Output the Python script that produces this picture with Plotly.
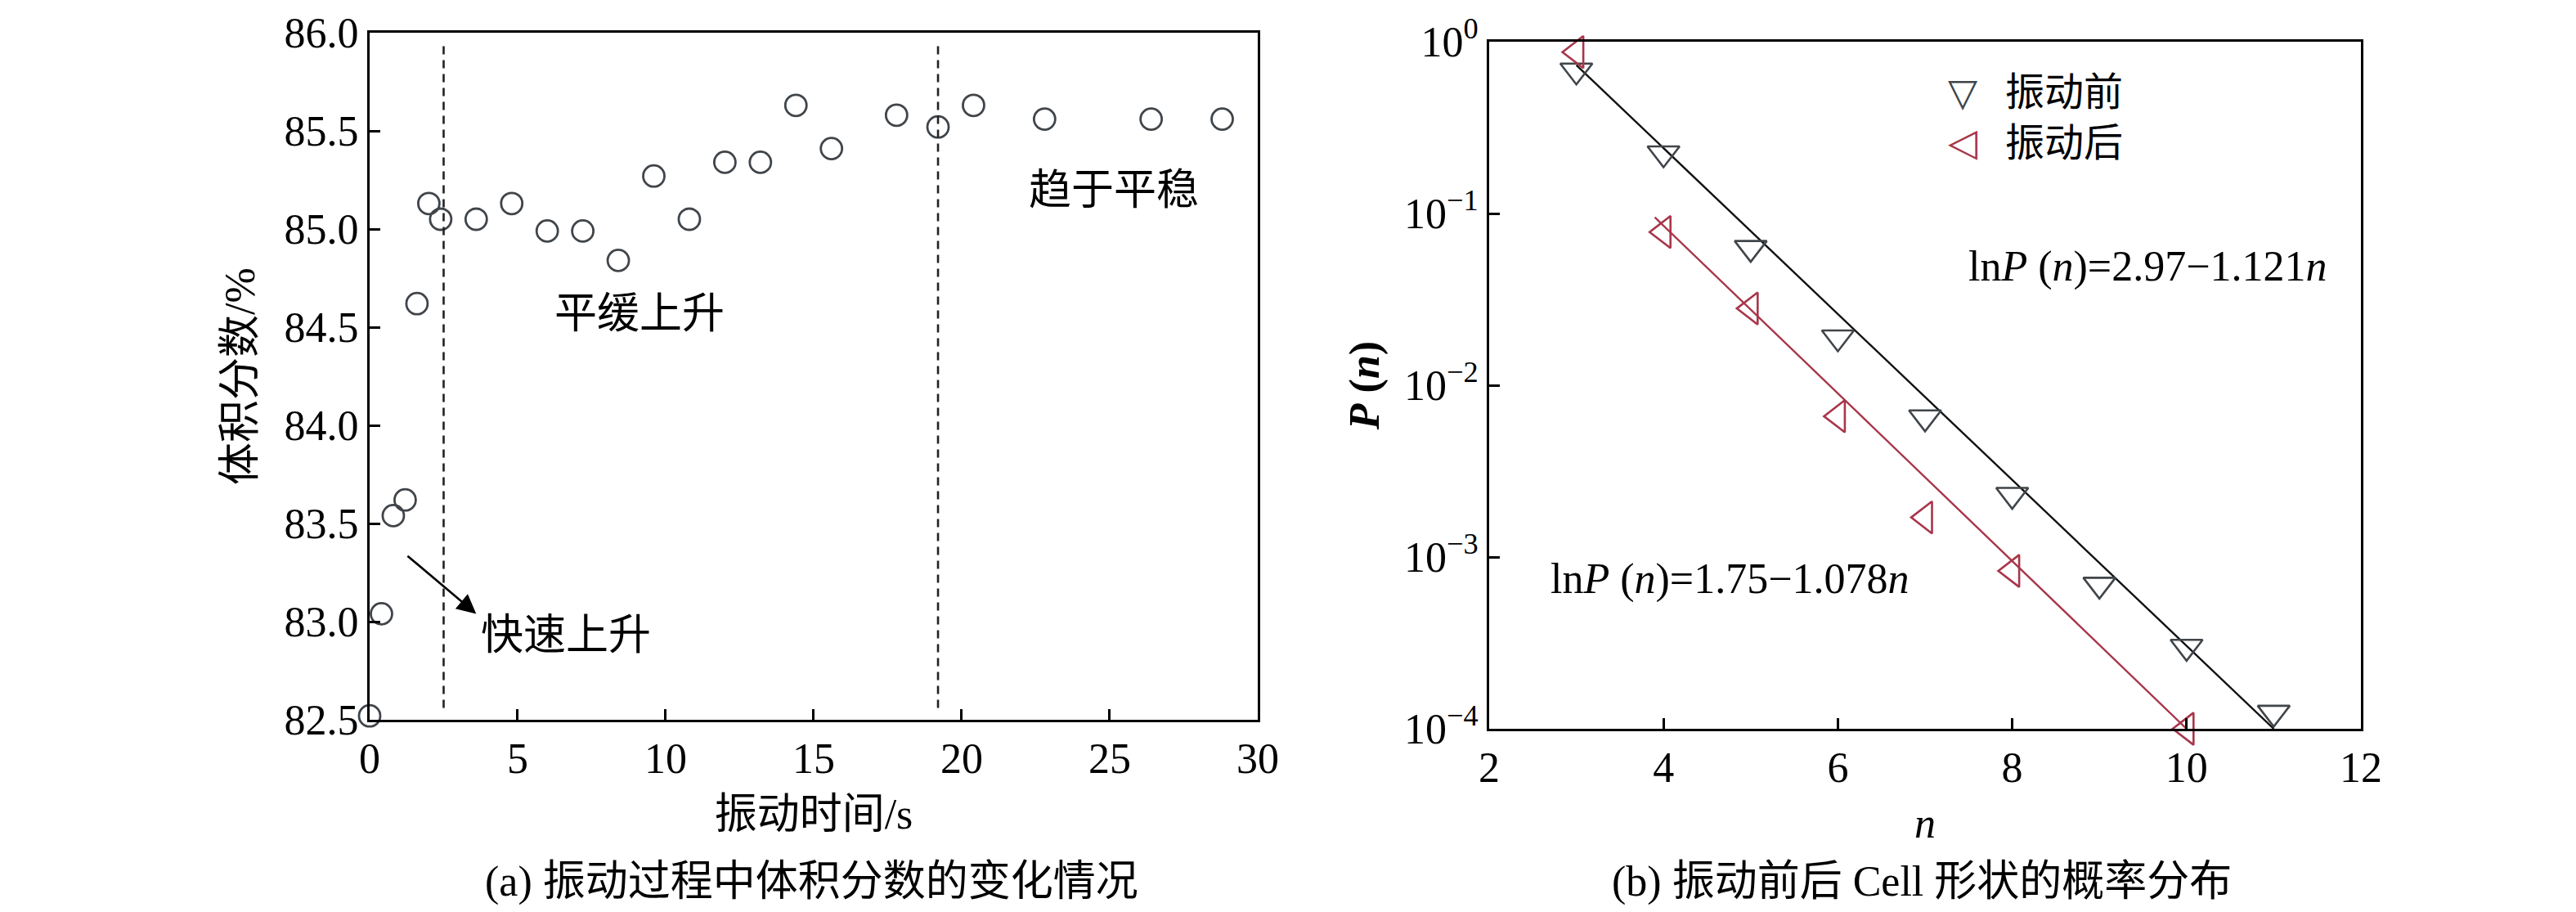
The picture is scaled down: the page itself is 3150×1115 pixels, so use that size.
import plotly.graph_objects as go

# (a) volume fraction vs vibration time
time_s = [0, 0.4, 0.8, 1.2, 1.6, 2.0, 2.4, 3.6, 4.8, 6.0, 7.2, 8.4, 9.6, 10.8,
          12.0, 13.2, 14.4, 15.6, 17.8, 19.2, 20.4, 22.8, 26.4, 28.8]
vol_frac = [82.52, 83.04, 83.54, 83.62, 84.62, 85.13, 85.05, 85.05, 85.13, 84.99,
            84.99, 84.84, 85.27, 85.05, 85.34, 85.34, 85.63, 85.41, 85.58, 85.52,
            85.63, 85.56, 85.56, 85.56]
stage_bounds = [2.5, 19.2]

# (b) probability of cell shape before / after vibration
n_before = [3, 4, 5, 6, 7, 8, 9, 10, 11]
p_before = [0.68, 0.224, 0.063, 0.019, 0.0065, 0.0023, 0.00069, 0.00030, 0.000124]
n_after = [3, 4, 5, 6, 7, 8, 10]
p_after = [0.87, 0.078, 0.028, 0.0066, 0.0017, 0.00083, 0.0001]
fit_before_n = [3, 11]
fit_before_p = [0.73, 0.0001]
fit_after_n = [3.9, 10]
fit_after_p = [0.095, 0.0001]

y_ticks_a = [82.5, 83.0, 83.5, 84.0, 84.5, 85.0, 85.5, 86.0]
x_ticks_a = [0, 5, 10, 15, 20, 25, 30]
y_ticks_b = [1, 0.1, 0.01, 0.001, 0.0001]
y_ticktext_b = ["10<sup>0</sup>", "10<sup>−1</sup>", "10<sup>−2</sup>",
                "10<sup>−3</sup>", "10<sup>−4</sup>"]
x_ticks_b = [2, 4, 6, 8, 10, 12]

FONT = "Liberation Serif, Noto Sans CJK SC, serif"
FS = 52
GREY = "#40454a"
RED = "#a8364a"

fig = go.Figure()

fig.add_trace(go.Scatter(
    x=time_s, y=vol_frac, mode="markers", showlegend=False, cliponaxis=False,
    marker=dict(symbol="circle-open", size=26, color=GREY, line=dict(width=2.8)),
    xaxis="x", yaxis="y"
))

fig.add_trace(go.Scatter(
    x=fit_before_n, y=fit_before_p, mode="lines", showlegend=False,
    line=dict(color="#111111", width=2.4), xaxis="x2", yaxis="y2"
))
fig.add_trace(go.Scatter(
    x=fit_after_n, y=fit_after_p, mode="lines", showlegend=False,
    line=dict(color=RED, width=2.4), xaxis="x2", yaxis="y2"
))
fig.add_trace(go.Scatter(
    x=n_before, y=p_before, mode="markers", name="振动前", showlegend=False,
    cliponaxis=False,
    marker=dict(symbol="triangle-down-open", size=34, color=GREY, line=dict(width=2.6)),
    xaxis="x2", yaxis="y2"
))
fig.add_trace(go.Scatter(
    x=n_after, y=p_after, mode="markers", name="振动后", showlegend=False,
    cliponaxis=False,
    marker=dict(symbol="triangle-left-open", size=34, color=RED, line=dict(width=2.6)),
    xaxis="x2", yaxis="y2"
))

# dashed stage boundaries
for xb in stage_bounds:
    fig.add_shape(type="line", xref="x", yref="y", x0=xb, x1=xb, y0=82.56, y1=85.96,
                  line=dict(color="#222222", width=2.6, dash="10px,7px"))

axis_common = dict(
    showline=True, linecolor="black", linewidth=3, mirror=True,
    ticks="inside", ticklen=13, tickwidth=3, tickcolor="black",
    showgrid=False, zeroline=False, automargin=False,
    tickfont=dict(family=FONT, size=FS, color="black"),
)

fig.update_layout(
    width=3150, height=1115,
    margin=dict(l=0, r=0, t=0, b=0),
    paper_bgcolor="white", plot_bgcolor="white",
    font=dict(family=FONT, size=FS, color="black"),
    showlegend=False,
    xaxis=dict(domain=[0.14095, 0.48571], range=[0, 30], tickvals=x_ticks_a,
               title=dict(text="振动时间/s", standoff=22, font=dict(size=FS)),
               anchor="y", **axis_common),
    yaxis=dict(domain=[0.21794, 0.97130], range=[82.5, 86.0], tickvals=y_ticks_a,
               tickformat=".1f",
               title=dict(text="体积分数/%", standoff=20, font=dict(size=FS)),
               anchor="x", **axis_common),
    xaxis2=dict(domain=[0.57556, 0.91397], range=[2, 12], tickvals=x_ticks_b,
                title=dict(text="<i>n</i>", standoff=22, font=dict(size=FS)),
                anchor="y2", **axis_common),
    yaxis2=dict(domain=[0.20807, 0.96143], type="log", range=[-4, 0],
                tickvals=y_ticks_b, ticktext=y_ticktext_b,
                title=dict(text="<b><i>P</i> (<i>n</i>)</b>", standoff=14, font=dict(size=FS)),
                anchor="x2", **axis_common),
)

legend_symbols = (f'<span style="color:{GREY}">▽</span><br>'
                  f'<span style="color:{RED}">◁</span>')
legend_text = "振动前<br>振动后"

annotations = [
    dict(x=3.7, y=82.93, xref="x", yref="y", text="快速上升", showarrow=False,
         xanchor="left", yanchor="middle"),
    dict(x=6.2, y=84.57, xref="x", yref="y", text="平缓上升", showarrow=False,
         xanchor="left", yanchor="middle"),
    dict(x=22.2, y=85.2, xref="x", yref="y", text="趋于平稳", showarrow=False,
         xanchor="left", yanchor="middle"),
    dict(x=3.6, y=83.04, ax=1.24, ay=83.34, xref="x", yref="y", axref="x", ayref="y",
         text="", showarrow=True, arrowhead=2, arrowsize=1.8, arrowwidth=2.6,
         arrowcolor="black"),
    dict(x=7.48, y=-1.31, xref="x2", yref="y2",
         text="ln<i>P</i> (<i>n</i>)=2.97−1.121<i>n</i>", showarrow=False,
         xanchor="left", yanchor="middle"),
    dict(x=2.68, y=-3.13, xref="x2", yref="y2",
         text="ln<i>P</i> (<i>n</i>)=1.75−1.078<i>n</i>", showarrow=False,
         xanchor="left", yanchor="middle"),
    # legend
    dict(x=0.7594, y=0.8785, xref="paper", yref="paper", text=legend_symbols,
         showarrow=False, xanchor="center", yanchor="middle",
         font=dict(family="DejaVu Sans", size=47, color=GREY)),
    dict(x=0.7752, y=0.8785, xref="paper", yref="paper", text=legend_text,
         showarrow=False, xanchor="left", yanchor="middle", align="left",
         font=dict(family=FONT, size=48, color="black")),
    # captions
    dict(x=0.3124, y=0.0404, xref="paper", yref="paper",
         text="(a) 振动过程中体积分数的变化情况", showarrow=False,
         xanchor="center", yanchor="middle"),
    dict(x=0.7435, y=0.0404, xref="paper", yref="paper",
         text="(b) 振动前后 Cell 形状的概率分布", showarrow=False,
         xanchor="center", yanchor="middle"),
]
for a in annotations:
    a.setdefault("font", dict(family=FONT, size=FS, color="black"))
    fig.add_annotation(**a)

fig.write_html("out.html")
